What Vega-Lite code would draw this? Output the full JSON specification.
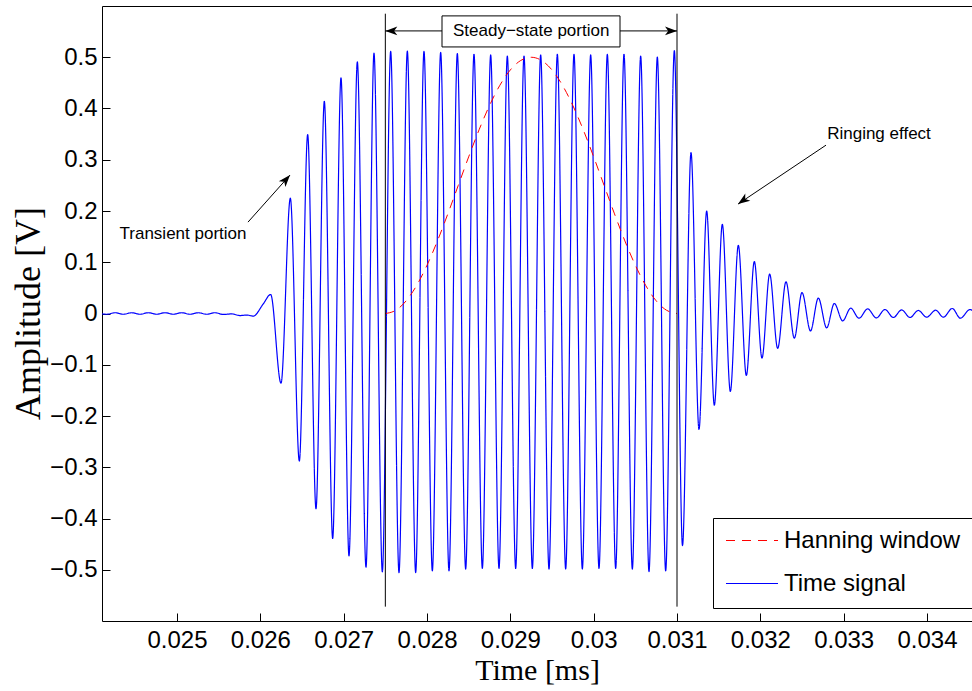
{
  "$schema": "https://vega.github.io/schema/vega-lite/v6.json",
  "width": 870,
  "height": 615,
  "autosize": {"type": "none"},
  "padding": {"left": 102, "top": 6, "right": 0, "bottom": 70},
  "background": "white",
  "config": {
    "view": {"stroke": "#000000", "strokeWidth": 1},
    "axis": {
      "grid": false,
      "domain": false,
      "tickColor": "#000000",
      "tickSize": 8,
      "offset": -8,
      "labelFont": "Liberation Sans",
      "labelFontSize": 24,
      "labelColor": "#000000",
      "labelFlush": false,
      "labelOverlap": false,
      "titleFont": "Liberation Serif",
      "titleFontWeight": "normal",
      "titleColor": "#000000"
    }
  },
  "resolve": {"axis": {"x": "independent", "y": "independent"}},
  "datasets": {
    "lines": [
      {"t": 0.0241, "v": -0.0008, "series": "Time signal"},
      {"t": 0.024156, "v": -0.0015, "series": "Time signal"},
      {"t": 0.024256, "v": 0.0015, "series": "Time signal"},
      {"t": 0.024356, "v": -0.0015, "series": "Time signal"},
      {"t": 0.024456, "v": 0.0015, "series": "Time signal"},
      {"t": 0.024556, "v": -0.0015, "series": "Time signal"},
      {"t": 0.024656, "v": 0.0015, "series": "Time signal"},
      {"t": 0.024756, "v": -0.0015, "series": "Time signal"},
      {"t": 0.024856, "v": 0.0015, "series": "Time signal"},
      {"t": 0.024956, "v": -0.0015, "series": "Time signal"},
      {"t": 0.025056, "v": 0.0015, "series": "Time signal"},
      {"t": 0.025156, "v": -0.0015, "series": "Time signal"},
      {"t": 0.025256, "v": 0.0015, "series": "Time signal"},
      {"t": 0.025356, "v": -0.0015, "series": "Time signal"},
      {"t": 0.025456, "v": 0.0015, "series": "Time signal"},
      {"t": 0.025556, "v": -0.0018, "series": "Time signal"},
      {"t": 0.025656, "v": -0.0008, "series": "Time signal"},
      {"t": 0.025756, "v": -0.004, "series": "Time signal"},
      {"t": 0.025836, "v": -0.003, "series": "Time signal"},
      {"t": 0.025916, "v": -0.005, "series": "Time signal"},
      {"t": 0.026032, "v": 0.018, "series": "Time signal"},
      {"t": 0.026124, "v": 0.037, "series": "Time signal"},
      {"t": 0.026248, "v": -0.136, "series": "Time signal"},
      {"t": 0.02636, "v": 0.225, "series": "Time signal"},
      {"t": 0.026468, "v": -0.288, "series": "Time signal"},
      {"t": 0.026568, "v": 0.349, "series": "Time signal"},
      {"t": 0.026668, "v": -0.381, "series": "Time signal"},
      {"t": 0.026768, "v": 0.414, "series": "Time signal"},
      {"t": 0.026868, "v": -0.439, "series": "Time signal"},
      {"t": 0.026968, "v": 0.46, "series": "Time signal"},
      {"t": 0.027064, "v": -0.473, "series": "Time signal"},
      {"t": 0.027164, "v": 0.491, "series": "Time signal"},
      {"t": 0.027268, "v": -0.495, "series": "Time signal"},
      {"t": 0.027364, "v": 0.508, "series": "Time signal"},
      {"t": 0.027464, "v": -0.504, "series": "Time signal"},
      {"t": 0.027564, "v": 0.5115, "series": "Time signal"},
      {"t": 0.027664, "v": -0.5055, "series": "Time signal"},
      {"t": 0.027764, "v": 0.512, "series": "Time signal"},
      {"t": 0.027864, "v": -0.5055, "series": "Time signal"},
      {"t": 0.027964, "v": 0.5115, "series": "Time signal"},
      {"t": 0.028064, "v": -0.5021, "series": "Time signal"},
      {"t": 0.028164, "v": 0.5094, "series": "Time signal"},
      {"t": 0.028264, "v": -0.5021, "series": "Time signal"},
      {"t": 0.028364, "v": 0.5072, "series": "Time signal"},
      {"t": 0.028464, "v": -0.4986, "series": "Time signal"},
      {"t": 0.028564, "v": 0.5059, "series": "Time signal"},
      {"t": 0.028664, "v": -0.4973, "series": "Time signal"},
      {"t": 0.028764, "v": 0.5045, "series": "Time signal"},
      {"t": 0.028864, "v": -0.4973, "series": "Time signal"},
      {"t": 0.028964, "v": 0.5023, "series": "Time signal"},
      {"t": 0.029064, "v": -0.4973, "series": "Time signal"},
      {"t": 0.029164, "v": 0.5023, "series": "Time signal"},
      {"t": 0.029264, "v": -0.4973, "series": "Time signal"},
      {"t": 0.029364, "v": 0.5045, "series": "Time signal"},
      {"t": 0.029464, "v": -0.4986, "series": "Time signal"},
      {"t": 0.029564, "v": 0.5059, "series": "Time signal"},
      {"t": 0.029664, "v": -0.4986, "series": "Time signal"},
      {"t": 0.029764, "v": 0.5059, "series": "Time signal"},
      {"t": 0.029864, "v": -0.4986, "series": "Time signal"},
      {"t": 0.029964, "v": 0.5045, "series": "Time signal"},
      {"t": 0.030064, "v": -0.4973, "series": "Time signal"},
      {"t": 0.030164, "v": 0.5059, "series": "Time signal"},
      {"t": 0.030264, "v": -0.4973, "series": "Time signal"},
      {"t": 0.030364, "v": 0.5059, "series": "Time signal"},
      {"t": 0.030464, "v": -0.4986, "series": "Time signal"},
      {"t": 0.030564, "v": 0.5023, "series": "Time signal"},
      {"t": 0.030664, "v": -0.5036, "series": "Time signal"},
      {"t": 0.030764, "v": 0.5004, "series": "Time signal"},
      {"t": 0.030864, "v": -0.5021, "series": "Time signal"},
      {"t": 0.030968, "v": 0.5129, "series": "Time signal"},
      {"t": 0.031066, "v": -0.453, "series": "Time signal"},
      {"t": 0.031168, "v": 0.314, "series": "Time signal"},
      {"t": 0.031264, "v": -0.226, "series": "Time signal"},
      {"t": 0.031356, "v": 0.2, "series": "Time signal"},
      {"t": 0.031448, "v": -0.179, "series": "Time signal"},
      {"t": 0.031544, "v": 0.174, "series": "Time signal"},
      {"t": 0.03164, "v": -0.152, "series": "Time signal"},
      {"t": 0.031736, "v": 0.133, "series": "Time signal"},
      {"t": 0.031832, "v": -0.121, "series": "Time signal"},
      {"t": 0.031928, "v": 0.1015, "series": "Time signal"},
      {"t": 0.03202, "v": -0.087, "series": "Time signal"},
      {"t": 0.032112, "v": 0.077, "series": "Time signal"},
      {"t": 0.032208, "v": -0.068, "series": "Time signal"},
      {"t": 0.032308, "v": 0.062, "series": "Time signal"},
      {"t": 0.032408, "v": -0.048, "series": "Time signal"},
      {"t": 0.0325, "v": 0.041, "series": "Time signal"},
      {"t": 0.032602, "v": -0.034, "series": "Time signal"},
      {"t": 0.032696, "v": 0.03, "series": "Time signal"},
      {"t": 0.032796, "v": -0.028, "series": "Time signal"},
      {"t": 0.032888, "v": 0.0195, "series": "Time signal"},
      {"t": 0.032988, "v": -0.0144, "series": "Time signal"},
      {"t": 0.033084, "v": 0.0104, "series": "Time signal"},
      {"t": 0.033184, "v": -0.0092, "series": "Time signal"},
      {"t": 0.033288, "v": 0.009, "series": "Time signal"},
      {"t": 0.033392, "v": -0.0086, "series": "Time signal"},
      {"t": 0.033496, "v": 0.0078, "series": "Time signal"},
      {"t": 0.033596, "v": -0.0078, "series": "Time signal"},
      {"t": 0.033696, "v": 0.007, "series": "Time signal"},
      {"t": 0.033796, "v": -0.0078, "series": "Time signal"},
      {"t": 0.033896, "v": 0.006, "series": "Time signal"},
      {"t": 0.033996, "v": -0.0072, "series": "Time signal"},
      {"t": 0.034104, "v": 0.0064, "series": "Time signal"},
      {"t": 0.034196, "v": -0.0072, "series": "Time signal"},
      {"t": 0.034304, "v": 0.0098, "series": "Time signal"},
      {"t": 0.0344, "v": -0.0092, "series": "Time signal"},
      {"t": 0.034516, "v": 0.0078, "series": "Time signal"},
      {"t": 0.03461, "v": -0.008, "series": "Time signal"},
      {"t": 0.0275, "v": 0, "series": "Hanning window"},
      {"t": 0.027625, "v": 0.00627, "series": "Hanning window"},
      {"t": 0.02775, "v": 0.02476, "series": "Hanning window"},
      {"t": 0.027875, "v": 0.05454, "series": "Hanning window"},
      {"t": 0.028, "v": 0.09413, "series": "Hanning window"},
      {"t": 0.028125, "v": 0.14153, "series": "Hanning window"},
      {"t": 0.02825, "v": 0.19437, "series": "Hanning window"},
      {"t": 0.028375, "v": 0.25, "series": "Hanning window"},
      {"t": 0.0285, "v": 0.30563, "series": "Hanning window"},
      {"t": 0.028625, "v": 0.35847, "series": "Hanning window"},
      {"t": 0.02875, "v": 0.40587, "series": "Hanning window"},
      {"t": 0.028875, "v": 0.44546, "series": "Hanning window"},
      {"t": 0.029, "v": 0.47524, "series": "Hanning window"},
      {"t": 0.029125, "v": 0.49373, "series": "Hanning window"},
      {"t": 0.02925, "v": 0.5, "series": "Hanning window"},
      {"t": 0.029375, "v": 0.49373, "series": "Hanning window"},
      {"t": 0.0295, "v": 0.47524, "series": "Hanning window"},
      {"t": 0.029625, "v": 0.44546, "series": "Hanning window"},
      {"t": 0.02975, "v": 0.40587, "series": "Hanning window"},
      {"t": 0.029875, "v": 0.35847, "series": "Hanning window"},
      {"t": 0.03, "v": 0.30563, "series": "Hanning window"},
      {"t": 0.030125, "v": 0.25, "series": "Hanning window"},
      {"t": 0.03025, "v": 0.19437, "series": "Hanning window"},
      {"t": 0.030375, "v": 0.14153, "series": "Hanning window"},
      {"t": 0.0305, "v": 0.09413, "series": "Hanning window"},
      {"t": 0.030625, "v": 0.05454, "series": "Hanning window"},
      {"t": 0.03075, "v": 0.02476, "series": "Hanning window"},
      {"t": 0.030875, "v": 0.00627, "series": "Hanning window"},
      {"t": 0.031, "v": 0, "series": "Hanning window"}
    ],
    "bounds": [{"t": 0.0275}, {"t": 0.031}],
    "span": [{"t": 0.0275, "t2": 0.031, "v": 0.5514}],
    "spanLeft": [{"t": 0.0275, "v": 0.5514}],
    "spanRight": [{"t": 0.031, "v": 0.5514}],
    "box": [{"t": 0.02818, "t2": 0.030316, "v": 0.5807, "v2": 0.5201}],
    "notes": [
      {"t": 0.02925, "v": 0.5514, "label": "Steady−state portion"},
      {"t": 0.025072, "v": 0.1549, "label": "Transient portion"},
      {"t": 0.033424, "v": 0.3502, "label": "Ringing effect"}
    ],
    "arrowTransient": [{"t": 0.025852, "v": 0.1783, "t2": 0.026356, "v2": 0.2701}],
    "arrowRinging": [{"t": 0.032788, "v": 0.3285, "t2": 0.031732, "v2": 0.2135}]
  },
  "layer": [
    {
      "data": {"name": "lines"},
      "mark": {"type": "line", "interpolate": "monotone", "clip": true},
      "encoding": {
        "x": {
          "field": "t",
          "type": "quantitative",
          "scale": {"domain": [0.0241, 0.03454], "nice": false, "zero": false},
          "axis": {
            "orient": "bottom",
            "values": [0.025, 0.026, 0.027, 0.028, 0.029, 0.03, 0.031, 0.032, 0.033, 0.034],
            "format": "~g",
            "labelPadding": 7,
            "title": "Time [ms]",
            "titleFontSize": 30,
            "titleX": 435,
            "titleY": 57,
            "titleAlign": "center",
            "titleBaseline": "middle"
          }
        },
        "y": {
          "field": "v",
          "type": "quantitative",
          "scale": {"domain": [-0.6, 0.6], "nice": false, "zero": false},
          "axis": {
            "orient": "left",
            "values": [-0.5, -0.4, -0.3, -0.2, -0.1, 0, 0.1, 0.2, 0.3, 0.4, 0.5],
            "format": "~g",
            "labelPadding": 5,
            "title": "Amplitude [V]",
            "titleFontSize": 36,
            "titleX": -82,
            "titleY": 307,
            "titleAngle": 270,
            "titleAlign": "center",
            "titleBaseline": "middle"
          }
        },
        "color": {
          "field": "series",
          "type": "nominal",
          "scale": {"domain": ["Hanning window", "Time signal"], "range": ["#ff0000", "#0000ff"]},
          "legend": {
            "title": null,
            "orient": "none",
            "legendX": 611,
            "legendY": 512,
            "symbolType": "stroke",
            "symbolSize": 2704,
            "symbolStrokeWidth": 1,
            "clipHeight": 21,
            "rowPadding": 18,
            "labelFont": "Liberation Sans",
            "labelFontSize": 24,
            "labelColor": "#000000",
            "labelOffset": 5,
            "labelLimit": 0,
            "padding": 12,
            "strokeColor": "#000000",
            "fillColor": "#ffffff"
          }
        },
        "strokeDash": {
          "field": "series",
          "type": "nominal",
          "scale": {"domain": ["Hanning window", "Time signal"], "range": [[9, 7], [1, 0]]},
          "legend": {
            "title": null,
            "orient": "none",
            "legendX": 611,
            "legendY": 512,
            "symbolType": "stroke",
            "symbolSize": 2704,
            "symbolStrokeWidth": 1,
            "clipHeight": 21,
            "rowPadding": 18,
            "labelFont": "Liberation Sans",
            "labelFontSize": 24,
            "labelColor": "#000000",
            "labelOffset": 5,
            "labelLimit": 0,
            "padding": 12,
            "strokeColor": "#000000",
            "fillColor": "#ffffff"
          }
        },
        "strokeWidth": {
          "field": "series",
          "type": "nominal",
          "scale": {"domain": ["Hanning window", "Time signal"], "range": [1, 1.2]},
          "legend": null
        }
      }
    },
    {
      "data": {"name": "bounds"},
      "mark": {"type": "rule", "color": "#000000", "strokeWidth": 1},
      "encoding": {
        "x": {"field": "t", "type": "quantitative", "axis": null},
        "y": {"datum": -0.572, "type": "quantitative", "axis": null},
        "y2": {"datum": 0.585}
      }
    },
    {
      "data": {"name": "span"},
      "mark": {"type": "rule", "color": "#000000", "strokeWidth": 1},
      "encoding": {
        "x": {"field": "t", "type": "quantitative", "axis": null},
        "x2": {"field": "t2"},
        "y": {"field": "v", "type": "quantitative", "axis": null}
      }
    },
    {
      "data": {"name": "spanLeft"},
      "mark": {"type": "point", "shape": "M0,0L-0.55,1.5L0,1.1L0.55,1.5Z", "filled": true, "size": 256, "angle": 270, "color": "#000000", "opacity": 1},
      "encoding": {
        "x": {"field": "t", "type": "quantitative", "axis": null},
        "y": {"field": "v", "type": "quantitative", "axis": null}
      }
    },
    {
      "data": {"name": "spanRight"},
      "mark": {"type": "point", "shape": "M0,0L-0.55,1.5L0,1.1L0.55,1.5Z", "filled": true, "size": 256, "angle": 90, "color": "#000000", "opacity": 1},
      "encoding": {
        "x": {"field": "t", "type": "quantitative", "axis": null},
        "y": {"field": "v", "type": "quantitative", "axis": null}
      }
    },
    {
      "data": {"name": "box"},
      "mark": {"type": "rect", "fill": "#ffffff", "stroke": "#000000", "strokeWidth": 1},
      "encoding": {
        "x": {"field": "t", "type": "quantitative", "axis": null},
        "x2": {"field": "t2"},
        "y": {"field": "v", "type": "quantitative", "axis": null},
        "y2": {"field": "v2"}
      }
    },
    {
      "data": {"name": "arrowTransient"},
      "mark": {"type": "rule", "color": "#000000", "strokeWidth": 1},
      "encoding": {
        "x": {"field": "t", "type": "quantitative", "axis": null},
        "y": {"field": "v", "type": "quantitative", "axis": null},
        "x2": {"field": "t2"},
        "y2": {"field": "v2"}
      }
    },
    {
      "data": {"name": "arrowTransient"},
      "mark": {"type": "point", "shape": "M0,0L-0.55,1.5L0,1.1L0.55,1.5Z", "filled": true, "size": 256, "angle": 41, "color": "#000000", "opacity": 1},
      "encoding": {
        "x": {"field": "t2", "type": "quantitative", "axis": null},
        "y": {"field": "v2", "type": "quantitative", "axis": null}
      }
    },
    {
      "data": {"name": "arrowRinging"},
      "mark": {"type": "rule", "color": "#000000", "strokeWidth": 1},
      "encoding": {
        "x": {"field": "t", "type": "quantitative", "axis": null},
        "y": {"field": "v", "type": "quantitative", "axis": null},
        "x2": {"field": "t2"},
        "y2": {"field": "v2"}
      }
    },
    {
      "data": {"name": "arrowRinging"},
      "mark": {"type": "point", "shape": "M0,0L-0.55,1.5L0,1.1L0.55,1.5Z", "filled": true, "size": 256, "angle": 235, "color": "#000000", "opacity": 1},
      "encoding": {
        "x": {"field": "t2", "type": "quantitative", "axis": null},
        "y": {"field": "v2", "type": "quantitative", "axis": null}
      }
    },
    {
      "data": {"name": "notes"},
      "mark": {"type": "text", "font": "Liberation Sans", "fontSize": 17, "color": "#000000", "align": "center", "baseline": "middle"},
      "encoding": {
        "x": {"field": "t", "type": "quantitative", "axis": null},
        "y": {"field": "v", "type": "quantitative", "axis": null},
        "text": {"field": "label"}
      }
    }
  ]
}
